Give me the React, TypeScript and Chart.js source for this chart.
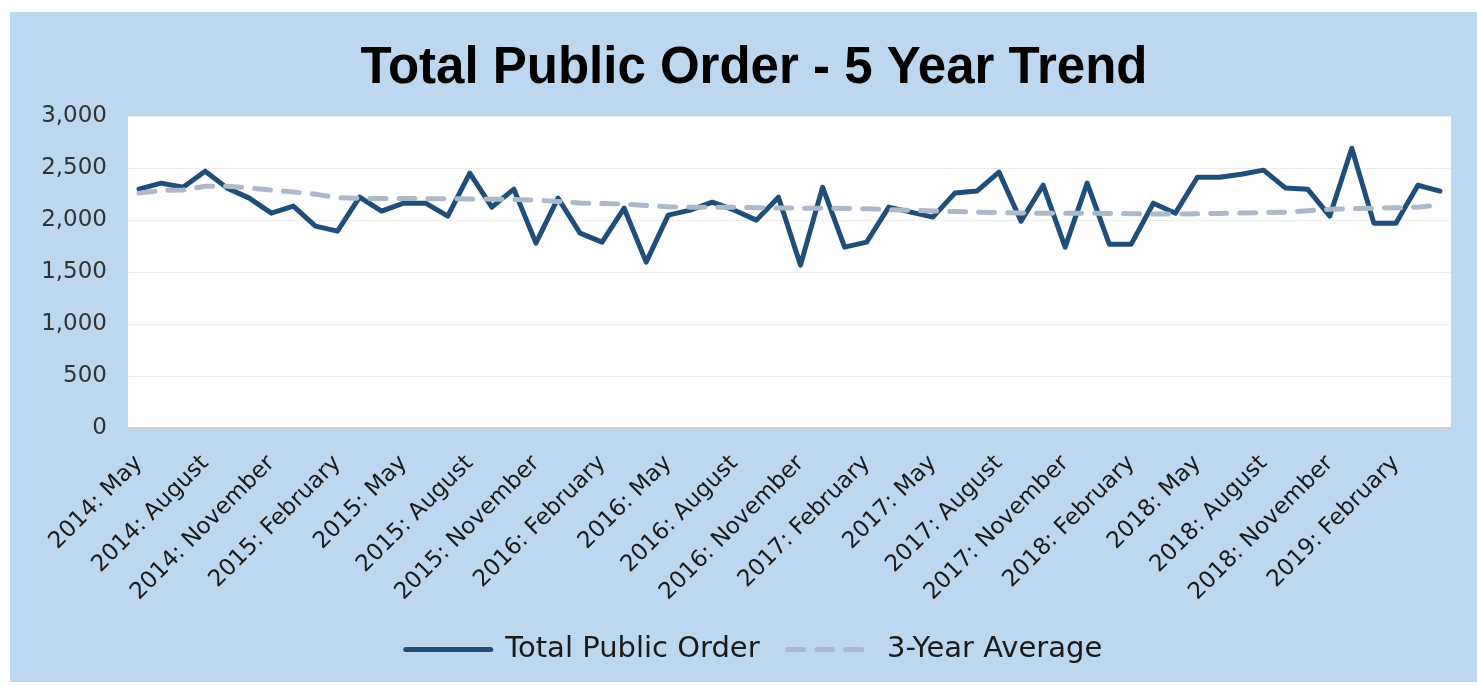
import React, { useEffect, useRef } from "react";
import { Chart, registerables } from "chart.js";

Chart.register(...registerables);

const categories = [
  "2014: May", "2014: June", "2014: July", "2014: August", "2014: September", "2014: October", "2014: November", "2014: December",
  "2015: January", "2015: February", "2015: March", "2015: April", "2015: May", "2015: June", "2015: July", "2015: August",
  "2015: September", "2015: October", "2015: November", "2015: December",
  "2016: January", "2016: February", "2016: March", "2016: April", "2016: May", "2016: June", "2016: July", "2016: August",
  "2016: September", "2016: October", "2016: November", "2016: December",
  "2017: January", "2017: February", "2017: March", "2017: April", "2017: May", "2017: June", "2017: July", "2017: August",
  "2017: September", "2017: October", "2017: November", "2017: December",
  "2018: January", "2018: February", "2018: March", "2018: April", "2018: May", "2018: June", "2018: July", "2018: August",
  "2018: September", "2018: October", "2018: November", "2018: December",
  "2019: January", "2019: February", "2019: March", "2019: April",
];

const totalPublicOrder = [
  2298, 2356, 2317, 2471, 2308, 2212, 2067, 2135, 1942, 1894,
  2221, 2087, 2163, 2163, 2038, 2452, 2125, 2298, 1779, 2212,
  1875, 1788, 2115, 1596, 2048, 2096, 2173, 2096, 2000, 2221,
  1567, 2317, 1740, 1788, 2125, 2077, 2029, 2260, 2280, 2462,
  1990, 2336, 1740, 2356, 1769, 1769, 2163, 2067, 2413, 2413,
  2442, 2481, 2308, 2298, 2038, 2692, 1971, 1971, 2336, 2279,
];

const threeYearAverage = [
  2260, 2285, 2290, 2325, 2325, 2310, 2290, 2270, 2250, 2215,
  2210, 2208, 2208, 2206, 2205, 2204, 2202, 2200, 2192, 2180,
  2165, 2160, 2155, 2140, 2128, 2125, 2125, 2124, 2120, 2117,
  2115, 2115, 2112, 2110, 2100, 2095, 2088, 2082, 2077, 2072,
  2068, 2067, 2066, 2066, 2065, 2062, 2060, 2058, 2062, 2065,
  2068, 2072, 2077, 2090, 2105, 2110, 2115, 2118, 2125, 2145,
];

const yTicks = [0, 500, 1000, 1500, 2000, 2500, 3000];

const plotBackground = {
  id: "plotBackground",
  beforeDraw(chart: any) {
    const { ctx, chartArea } = chart;
    if (!chartArea) return;
    ctx.save();
    ctx.fillStyle = "#FFFFFF";
    ctx.fillRect(chartArea.left, chartArea.top, chartArea.right - chartArea.left, chartArea.bottom - chartArea.top);
    ctx.restore();
  },
};

export default function App() {
  const canvasRef = useRef<HTMLCanvasElement | null>(null);

  useEffect(() => {
    if (!canvasRef.current) return;
    const chart = new Chart(canvasRef.current, {
      type: "line",
      data: {
        labels: categories,
        datasets: [
          {
            label: "Total Public Order",
            data: totalPublicOrder,
            borderColor: "#1F4E79",
            backgroundColor: "#1F4E79",
            borderWidth: 5,
            pointRadius: 0,
            tension: 0,
            borderJoinStyle: "round",
            borderCapStyle: "round",
            order: 1,
          },
          {
            label: "3-Year Average",
            data: threeYearAverage,
            borderColor: "#ADB9CA",
            backgroundColor: "#ADB9CA",
            borderWidth: 5,
            borderDash: [16, 13],
            borderCapStyle: "round",
            pointRadius: 0,
            tension: 0,
            order: 0,
          },
        ],
      },
      options: {
        animation: false,
        responsive: true,
        maintainAspectRatio: false,
        layout: { padding: { left: 21, right: 0, top: 0, bottom: 0 } },
        plugins: {
          title: {
            display: true,
            text: "Total Public Order - 5 Year Trend",
            color: "#000000",
            font: { family: "'Liberation Sans', Arial, sans-serif", size: 51, weight: "bold", lineHeight: 1.2 },
            padding: { top: 26, bottom: 17 },
          },
          legend: {
            display: true,
            position: "bottom",
            labels: {
              usePointStyle: true,
              pointStyle: "line",
              pointStyleWidth: 85,
              padding: 28,
              color: "#1A1A1A",
              font: { family: "'DejaVu Sans', sans-serif", size: 29 },
              sort: (a: any, b: any) => a.datasetIndex - b.datasetIndex,
              generateLabels: (ch: any) => {
                const items = Chart.defaults.plugins.legend.labels.generateLabels(ch);
                items.forEach((it: any) => {
                  const ds: any = ch.data.datasets[it.datasetIndex];
                  it.lineDash = ds.borderDash || [];
                  it.lineCap = ds.borderCapStyle || "butt";
                  it.lineWidth = ds.borderWidth;
                  it.strokeStyle = ds.borderColor;
                });
                return items;
              },
            },
          },
          tooltip: { enabled: false },
        },
        scales: {
          x: {
            type: "category",
            offset: true,
            grid: { display: false, drawTicks: false },
            border: { display: true, color: "#D0D0D0", width: 2 },
            ticks: {
              autoSkip: false,
              minRotation: 45,
              maxRotation: 45,
              padding: 22,
              color: "#1A1A1A",
              font: { family: "'DejaVu Sans', sans-serif", size: 23 },
              callback: (_v: any, index: number) => (index % 3 === 0 ? categories[index] : ""),
            },
            afterFit: (scale: any) => {
              scale.height = 179;
              scale.paddingRight = 0;
              scale.paddingLeft = 0;
            },
          },
          y: {
            type: "linear",
            min: 0,
            max: 3000,
            grid: { color: "#ECECEC", lineWidth: 1, drawTicks: false },
            border: { display: false },
            afterBuildTicks: (scale: any) => {
              scale.ticks = yTicks.map((v) => ({ value: v }));
            },
            ticks: {
              padding: 21,
              color: "#333333",
              font: { family: "'DejaVu Sans', sans-serif", size: 23 },
              callback: (v: any) => Number(v).toLocaleString("en-US"),
            },
            afterFit: (scale: any) => {
              scale.width = 97;
            },
          },
          yRight: {
            type: "linear",
            position: "right",
            display: true,
            grid: { display: false, drawTicks: false },
            border: { display: false },
            ticks: { display: false },
            afterFit: (scale: any) => {
              scale.width = 26;
            },
          },
        },
      },
      plugins: [plotBackground],
    } as any);
    return () => chart.destroy();
  }, []);

  return (
    <div style={{ position: "absolute", left: 10, top: 12, width: 1467, height: 670, background: "#BDD7EE" }}>
      <div style={{ position: "relative", width: 1467, height: 662 }}>
        <canvas ref={canvasRef} />
      </div>
    </div>
  );
}
